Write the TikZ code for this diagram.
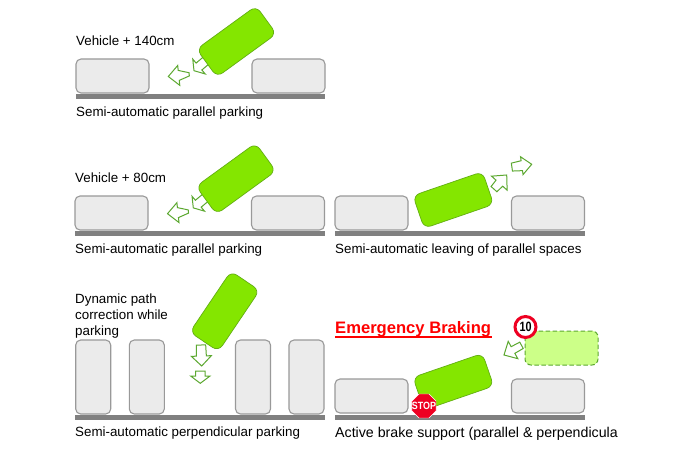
\documentclass[tikz,border=0pt]{standalone}
\usepackage{fontspec}
\setmainfont{Liberation Sans}
\usetikzlibrary{shapes.geometric}
\definecolor{carfill}{HTML}{84E600}
\definecolor{caredge}{HTML}{62AE12}
\definecolor{arrowedge}{HTML}{5CA830}
\definecolor{parkedfill}{HTML}{EBEBEB}
\definecolor{parkededge}{HTML}{999999}
\definecolor{roadgray}{HTML}{808080}
\definecolor{ghostfill}{HTML}{CCFF88}
\definecolor{signred}{HTML}{EE0022}
\definecolor{titlered}{HTML}{FF0000}
\tikzset{
  x=1pt,y=-1pt,
  parked/.style={draw=parkededge,fill=parkedfill,line width=1.1pt,rounded corners=5pt,minimum width=73pt,minimum height=34pt,inner sep=0pt,outer sep=0pt},
  tallparked/.style={parked,minimum width=35pt,minimum height=74pt},
  activecar/.style={draw=caredge,fill=carfill,line width=0.7pt,rounded corners=7pt,minimum width=73.5pt,minimum height=34.5pt,inner sep=0pt},
  ghostcar/.style={draw=arrowedge,fill=ghostfill,line width=1pt,dash pattern=on 4.5pt off 2.5pt,rounded corners=6pt,minimum width=73pt,minimum height=34pt,inner sep=0pt},
  road/.style={fill=roadgray,draw=none},
  label/.style={anchor=base west,inner sep=0pt,font=\fontsize{13.35}{15}\selectfont},
  moveline/.style={draw=arrowedge,fill=white,line width=1pt,line join=miter},
}
% tip x, tip y, angle, total length, head length, head half width, neck half width, end half width
\newcommand{\movearrow}[8]{%
  \draw[moveline,shift={(#1,#2)},rotate=#3]
    (0,0) -- (-#5,#6) -- (-#5,#7) -- (-#4,#8) -- (-#4,-#8) -- (-#5,-#7) -- (-#5,-#6) -- cycle;}
\begin{document}
\begin{tikzpicture}
\useasboundingbox (0,0) rectangle (690,460);
\fill[white] (0,0) rectangle (690,460);
% row 1
\fill[road] (76,94) rectangle (325,99);
\node[parked] (a1) at (112.5,76) {};
\node[parked] (a2) at (288.5,76) {};
\movearrow{168.3}{76.5}{186}{21}{10.5}{10}{5}{1.6}
\movearrow{194}{70.7}{220}{22}{6.5}{9.7}{4.5}{4.5}
\node[activecar,rotate=36] (a3) at (236.5,41.5) {};
\node[label] (a4) at (76,45.7) {Vehicle + 140cm};
\node[label] (a5) at (76,116) {Semi-automatic parallel parking};
% row 2 left
\fill[road] (75,231) rectangle (325,236);
\node[parked] (b1) at (111.5,213) {};
\node[parked] (b2) at (288,213) {};
\movearrow{167.5}{213.7}{186}{21}{10.5}{10}{5}{1.6}
\movearrow{193.3}{207.9}{220}{22}{6.5}{9.7}{4.5}{4.5}
\node[activecar,rotate=36] (b3) at (236,178.7) {};
\node[label] (b4) at (75,182.4) {Vehicle + 80cm};
\node[label] (b5) at (75,253.7) {Semi-automatic parallel parking};
% row 2 right
\fill[road] (335,231) rectangle (585,236);
\node[parked] (c1) at (371.5,213) {};
\node[parked] (c2) at (548,213) {};
\node[activecar,rotate=19] (c3) at (453.3,200) {};
\movearrow{506.7}{175}{48}{19}{11}{10.5}{4.5}{3.9}
\movearrow{531.7}{164.3}{8}{20}{10}{9}{5}{4}
\node[label] (c4) at (335,253.7) {Semi-automatic leaving of parallel spaces};
% row 3 left
\fill[road] (75,415) rectangle (325,420);
\node[tallparked] (d1) at (93.2,377) {};
\node[tallparked] (d2) at (146.8,377) {};
\node[tallparked] (d3) at (253,377) {};
\node[tallparked] (d4) at (306.5,377) {};
\movearrow{201.7}{366}{-88}{21}{10}{10}{5}{4.7}
\movearrow{200.3}{383.3}{-90}{12.3}{7.3}{9.7}{4.8}{4.8}
\node[activecar,rotate=56] (d5) at (224.7,311.3) {};
\node[label] (d6) at (75,303) {Dynamic path};
\node[label] (d7) at (75,319.3) {correction while};
\node[label] (d8) at (75,335.5) {parking};
\node[label] (d9) at (75,436.7) {Semi-automatic perpendicular parking};
% row 3 right
\fill[road] (335,415) rectangle (585,420);
\node[parked] (e1) at (371.5,396) {};
\node[parked] (e2) at (548,396) {};
\node[activecar,rotate=19] (e3) at (453.3,381.7) {};
\node[ghostcar] (e4) at (561.5,348) {};
\movearrow{504}{355}{209}{20}{10.3}{9.9}{3.8}{3.6}
\node[circle,draw=signred,fill=white,line width=3pt,minimum size=21pt,inner sep=0pt] (e5) at (525.5,327) {\fontsize{13.5}{14}\selectfont\bfseries\scalebox{.8}[1]{10}};
\node[regular polygon,regular polygon sides=8,fill=signred,draw=white,line width=.4pt,minimum size=26pt,inner sep=0pt] (e6) at (424,406) {};
\node[inner sep=0pt,text=white] (e7) at (424,406) {\fontsize{10.5}{11}\selectfont\bfseries\scalebox{.85}[1]{STOP}};
\node[anchor=base west,inner sep=0pt,text=titlered,font=\fontsize{16.6}{18}\selectfont\bfseries] (e8) at (335,333.5) {Emergency Braking};
\draw[titlered,line width=2pt] (e8.base west) ++(0,3) -- ++(157,0);
\node[anchor=base west,inner sep=0pt,font=\fontsize{14.2}{15}\selectfont] (e9) at (335,437.7) {Active brake support (parallel \& perpendicula};
\end{tikzpicture}
\end{document}
